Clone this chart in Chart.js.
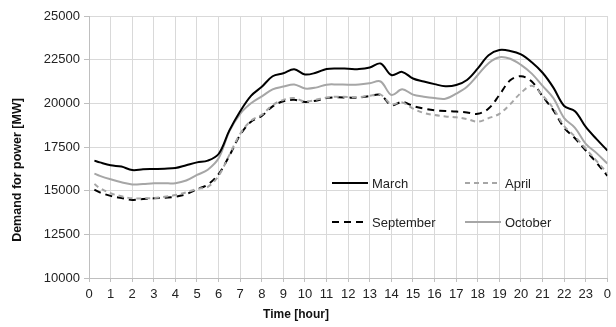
<!DOCTYPE html>
<html>
<head>
<meta charset="utf-8">
<script src="https://cdn.jsdelivr.net/npm/chart.js@4"></script>
<style>
  html, body { margin: 0; padding: 0; background: #fff; }
  #wrap { width: 616px; height: 327px; }
</style>
</head>
<body>
<div id="wrap"><canvas id="demandChart" width="616" height="327"></canvas></div>
<script>
// half-hourly sample times (hours)
const hours = [0.25, 0.5, 1, 1.5, 2, 2.5, 3, 3.5, 4, 4.5, 5, 5.5, 6, 6.5, 7, 7.5, 8, 8.5, 9, 9.5,
    10, 10.5, 11, 11.5, 12, 12.5, 13, 13.5, 14, 14.5, 15, 15.5, 16, 16.5, 17, 17.5, 18, 18.5, 19, 19.5,
    20, 20.5, 21, 21.5, 22, 22.5, 23, 23.5, 24];

const march = [16720, 16620, 16450, 16380, 16180, 16220, 16240, 16260, 16300, 16460, 16620, 16720,
    17100, 18450, 19550, 20430, 20950, 21550, 21720, 21950, 21650, 21750, 21970, 22000, 21980, 21960,
    22050, 22280, 21620, 21800, 21420, 21250, 21100, 20980, 21050, 21340, 22000, 22750, 23050, 23000,
    22800, 22350, 21750, 20900, 19850, 19550, 18650, 17950, 17300];

const april = [15380, 15150, 14850, 14680, 14560, 14560, 14580, 14650, 14750, 14900, 15100, 15220,
    15850, 17050, 18250, 19000, 19350, 19900, 20200, 20300, 20100, 20200, 20330, 20380, 20360, 20360,
    20440, 20500, 19950, 20050, 19700, 19450, 19330, 19250, 19200, 19100, 18950, 19150, 19400, 19950,
    20600, 21000, 20450, 19700, 18700, 18100, 17400, 16700, 16000];

const september = [15060, 14900, 14700, 14580, 14470, 14520, 14560, 14600, 14650, 14800, 15080, 15350,
    15950, 17000, 18200, 18950, 19280, 19830, 20120, 20200, 20080, 20150, 20300, 20350, 20330, 20330,
    20420, 20480, 19900, 20080, 19850, 19700, 19600, 19560, 19530, 19480, 19400, 19700, 20480, 21320,
    21550, 21250, 20400, 19600, 18600, 18000, 17300, 16600, 15850];

const october = [15980, 15850, 15650, 15480, 15360, 15380, 15420, 15420, 15430, 15580, 15900, 16200,
    16850, 18400, 19400, 20000, 20400, 20800, 20960, 21080, 20850, 20900, 21070, 21080, 21070, 21080,
    21150, 21250, 20480, 20800, 20500, 20380, 20300, 20260, 20550, 20950, 21620, 22300, 22640, 22550,
    22200, 21700, 21000, 20300, 19150, 18600, 17680, 17150, 16550];

const hourLabels = ['0', '1', '2', '3', '4', '5', '6', '7', '8', '9', '10', '11', '12',
    '13', '14', '15', '16', '17', '18', '19', '20', '21', '22', '23', '0'];

const xTitle = 'Time [hour]';
const yTitle = 'Demand for power [MW]';

const BLACK = '#000000';
const GREY = '#a6a6a6';
const FONT = '"Liberation Sans", Arial, sans-serif';

function toPoints(values) {
    return values.map((v, i) => ({ x: hours[i], y: v }));
}

// legend drawn inside the plot area (two columns by two rows) plus the axis titles
const innerLegend = {
    id: 'innerLegend',
    afterDraw(chart) {
        const ctx = chart.ctx;
        const area = chart.chartArea;
        const slots = [
            { x: area.left + 243, y: area.top + 167 },
            { x: area.left + 376, y: area.top + 167 },
            { x: area.left + 243, y: area.top + 206 },
            { x: area.left + 376, y: area.top + 206 }
        ];
        ctx.save();
        ctx.font = '13px ' + FONT;
        ctx.textBaseline = 'middle';
        chart.data.datasets.forEach((ds, i) => {
            const s = slots[i];
            ctx.strokeStyle = ds.borderColor;
            ctx.lineWidth = ds.borderWidth;
            ctx.setLineDash(ds.borderDash || []);
            ctx.beginPath();
            ctx.moveTo(s.x, s.y);
            ctx.lineTo(s.x + 36, s.y);
            ctx.stroke();
            ctx.setLineDash([]);
            ctx.fillStyle = '#222';
            ctx.fillText(ds.label, s.x + 40, s.y + 1);
        });

        // axis titles
        ctx.fillStyle = '#111';
        ctx.textAlign = 'center';
        ctx.font = 'bold 12px ' + FONT;
        ctx.fillText(xTitle, 296, 315);
        ctx.translate(18, 170);
        ctx.rotate(-Math.PI / 2);
        ctx.font = 'bold 12.5px ' + FONT;
        ctx.fillText(yTitle, 0, 0);
        ctx.restore();
    }
};

const ctx = document.getElementById('demandChart').getContext('2d');
new Chart(ctx, {
    type: 'line',
    data: {
        datasets: [
            { label: 'March', data: toPoints(march), borderColor: BLACK, borderWidth: 2 },
            { label: 'April', data: toPoints(april), borderColor: GREY, borderWidth: 2, borderDash: [5, 4] },
            { label: 'September', data: toPoints(september), borderColor: BLACK, borderWidth: 2, borderDash: [7, 5] },
            { label: 'October', data: toPoints(october), borderColor: GREY, borderWidth: 2 }
        ]
    },
    options: {
        responsive: false,
        animation: false,
        devicePixelRatio: 1,
        layout: { padding: { top: 16, right: 5, left: 0, bottom: 0 } },
        elements: {
            point: { radius: 0 },
            line: { tension: 0.35, fill: false }
        },
        plugins: {
            legend: { display: false },
            tooltip: { enabled: false }
        },
        scales: {
            x: {
                type: 'linear',
                min: 0,
                max: 24,
                afterFit: (scale) => { scale.height = 49; },
                ticks: {
                    stepSize: 1,
                    autoSkip: false,
                    maxRotation: 0,
                    color: '#222',
                    padding: 5,
                    font: { family: FONT, size: 13 },
                    callback: (value) => hourLabels[value]
                },
                grid: { color: '#d9d9d9', tickColor: '#bfbfbf', tickLength: 4 },
                border: { color: '#bfbfbf' }
            },
            y: {
                min: 10000,
                max: 25000,
                afterFit: (scale) => { scale.width = 89; },
                ticks: {
                    stepSize: 2500,
                    color: '#222',
                    padding: 4,
                    font: { family: FONT, size: 13 },
                    callback: (value) => String(value)
                },
                grid: { color: '#d9d9d9', tickColor: '#bfbfbf', tickLength: 5 },
                border: { color: '#bfbfbf' }
            }
        }
    },
    plugins: [innerLegend]
});
</script>
</body>
</html>
